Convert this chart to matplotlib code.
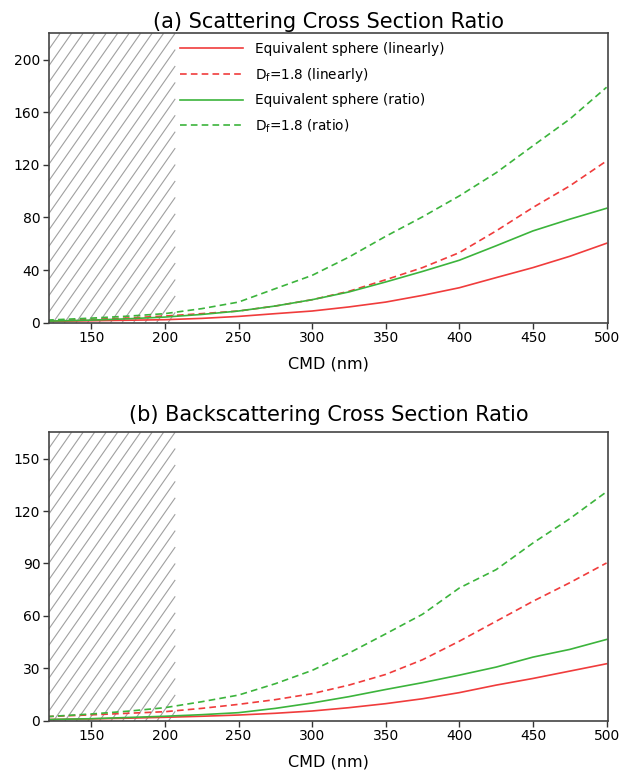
#plot.py
# Scattering and backscattering cross section ratios vs CMD, two panels

import numpy as np
import matplotlib.pyplot as plt
from matplotlib.collections import LineCollection

#CMD values (nm) where the curves were read
cmd = [120, 150, 175, 200, 225, 250, 275, 300, 325, 350, 375, 400, 425, 450, 475, 500]

#(a) scattering cross section ratio
sca_sphere_lin = [1.0, 1.5, 1.9, 2.3, 3.3, 4.8, 6.9, 8.9, 12.0, 15.7, 20.8, 26.6, 34.3, 41.9, 50.5, 60.4]
sca_df_lin = [1.5, 2.5, 3.6, 5.1, 6.9, 8.9, 12.7, 17.5, 23.9, 32.7, 41.9, 53.3, 69.8, 87.6, 104.0, 123.0]
sca_sphere_ratio = [1.2, 2.0, 3.0, 4.3, 6.3, 8.9, 12.7, 17.5, 23.4, 31.0, 39.0, 47.5, 58.5, 69.8, 78.7, 87.0]
sca_df_ratio = [2.0, 3.5, 5.0, 6.9, 10.7, 15.7, 25.9, 36.0, 49.9, 65.7, 80.5, 96.4, 114.0, 134.5, 154.8, 179.0]

#(b) backscattering cross section ratio
bsc_sphere_lin = [0.8, 1.2, 1.6, 2.1, 2.7, 3.4, 4.4, 5.7, 7.6, 9.9, 12.7, 16.2, 20.5, 24.3, 28.5, 32.7]
bsc_df_lin = [2.5, 3.5, 4.4, 5.3, 7.2, 9.5, 12.2, 15.6, 20.5, 26.6, 35.0, 45.6, 57.0, 68.4, 79.0, 90.3]
bsc_sphere_ratio = [0.8, 1.3, 2.0, 2.7, 3.6, 4.75, 7.2, 10.3, 13.9, 18.0, 21.9, 26.2, 30.8, 36.5, 40.9, 46.6]
bsc_df_ratio = [2.5, 4.0, 5.6, 7.6, 11.0, 14.8, 21.3, 28.9, 38.8, 49.8, 61.0, 76.0, 86.5, 101.7, 115.6, 131.0]

labels = ['Equivalent sphere (linearly)', r'D$_\mathregular{f}$=1.8 (linearly)',
          'Equivalent sphere (ratio)', r'D$_\mathregular{f}$=1.8 (ratio)']
titles = ['(a) Scattering Cross Section Ratio', '(b) Backscattering Cross Section Ratio']
yticks_a = [0, 40, 80, 120, 160, 200]
yticks_b = [0, 30, 60, 90, 120, 150]
xticks = [150, 200, 250, 300, 350, 400, 450, 500]
xmin, xmax = 121, 501
shade_end = 207

red = '#f03c3c'
green = '#3cb43c'
styles = [(red, '-'), (red, (0, (4, 2.5))), (green, '-'), (green, (0, (4, 2.5)))]

plt.rcParams['font.family'] = 'DejaVu Sans'


def add_hatch(ax, x_end, spacing_px=11.5, angle=55):
    #steep diagonal hatch over [xmin, x_end], cut to the box by hand
    fig = ax.figure
    pos = ax.get_position()
    w_px = pos.width * fig.get_figwidth() * fig.dpi
    h_px = pos.height * fig.get_figheight() * fig.dpi
    xe = (x_end - xmin) / (xmax - xmin)
    run = h_px / np.tan(np.radians(angle)) / w_px
    segs = []
    for s in np.arange(-run, xe, spacing_px / w_px):
        y0 = max(0.0, -s / run)
        y1 = min(1.0, (xe - s) / run)
        if y1 > y0:
            segs.append([(s + run * y0, y0), (s + run * y1, y1)])
    lc = LineCollection(segs, transform=ax.transAxes, colors='#a0a0a0', linewidths=0.8)
    ax.add_collection(lc, autolim=False)


fig = plt.figure(figsize=(6.23, 7.73), dpi=100)
ax_a = fig.add_axes([0.078, 0.5825, 0.898, 0.3744])
ax_b = fig.add_axes([0.078, 0.0673, 0.898, 0.3735])

panels = [
    (ax_a, [sca_sphere_lin, sca_df_lin, sca_sphere_ratio, sca_df_ratio], 220, yticks_a, 4),
    (ax_b, [bsc_sphere_lin, bsc_df_lin, bsc_sphere_ratio, bsc_df_ratio], 165, yticks_b, 8),
]

for i, (ax, series, ymax, yticks, tpad) in enumerate(panels):
    add_hatch(ax, shade_end)
    for s, (c, ls), lab in zip(series, styles, labels):
        ax.plot(cmd, s, color=c, linestyle=ls, linewidth=1.2, label=lab)
    ax.set_xlim(xmin, xmax)
    ax.set_ylim(0, ymax)
    ax.set_xticks(xticks)
    ax.set_yticks(yticks)
    ax.tick_params(direction='out', length=4, width=1.0, color='#333333', labelsize=10, pad=2)
    for sp in ax.spines.values():
        sp.set_color('#444444')
        sp.set_linewidth(1.2)
    ax.set_title(titles[i], fontsize=15, pad=tpad)
    ax.set_xlabel('CMD (nm)', fontsize=11.5, labelpad=8)

ax_a.legend(loc='upper left', bbox_to_anchor=(0.213, 1.013), frameon=False, fontsize=9.8,
            handlelength=4.6, handletextpad=0.9, labelspacing=0.72)

plt.savefig('out.png', dpi=100)
